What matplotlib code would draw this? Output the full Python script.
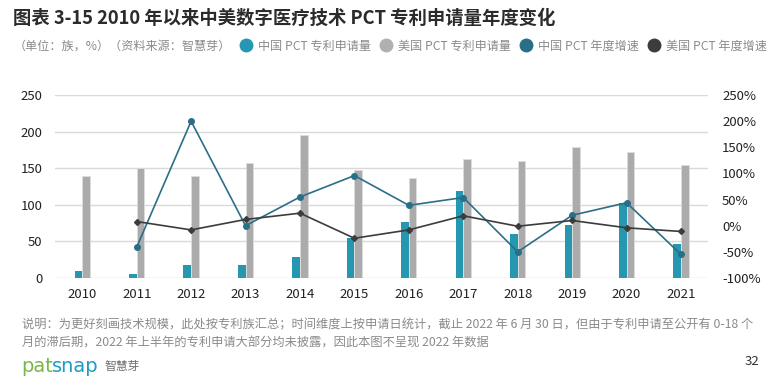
import matplotlib
matplotlib.use('Agg')
import matplotlib.pyplot as plt
import numpy as np
from matplotlib.lines import Line2D

plt.rcParams['font.family'] = ['Noto Sans CJK SC', 'DejaVu Sans']

years = ['2010', '2011', '2012', '2013', '2014', '2015', '2016', '2017', '2018', '2019', '2020', '2021']
cn_count = [10, 6, 18, 18, 28, 55, 76, 119, 60, 72, 103, 47]
us_count = [140, 151, 140, 157, 195, 148, 136, 162, 160, 179, 172, 155]
# growth in %, first year has no value
cn_growth = [np.nan, -41, 200, 0, 55, 96, 39, 54, -50, 20, 44, -55]
us_growth = [np.nan, 8, -8, 12, 24, -24, -8, 19, -1, 10, -4, -11]

left_ticks = [0, 50, 100, 150, 200, 250]
right_ticks = [-100, -50, 0, 50, 100, 150, 200, 250]

C_CN_BAR = '#2597b1'
C_US_BAR = '#ababab'
C_CN_LINE = '#2a6f88'
C_US_LINE = '#3c3c3c'
C_TEXT = '#222222'
C_GREY = '#8a8a8a'

fig = plt.figure(figsize=(7.73, 3.85), dpi=100)
ax = fig.add_axes([0.0712, 0.278, 0.845, 0.475])
ax2 = ax.twinx()

x = np.arange(len(years))
w = 0.14
ax.bar(x - w / 2, cn_count, w, color=C_CN_BAR, zorder=2)
ax.bar(x + w / 2, us_count, w, color=C_US_BAR, edgecolor='#dddddd', linewidth=0.6, zorder=2)

ax.set_xlim(-0.5, 11.5)
ax.set_ylim(0, 250)
ax.set_yticks(left_ticks)
ax.grid(axis='y', color='#d9d9d9', linewidth=1, zorder=0)
ax.set_axisbelow(True)
ax.set_xticks(x)
ax.set_xticklabels(years)
for s in ax.spines.values():
    s.set_visible(False)
ax.tick_params(axis='both', length=0, labelsize=9.5, colors=C_TEXT, pad=7)
ax.tick_params(axis='y', pad=9)

ax2.plot(x, cn_growth, color=C_CN_LINE, marker='o', markersize=4, linewidth=1.2, zorder=3)
ax2.plot(x, us_growth, color=C_US_LINE, marker='D', markersize=3, linewidth=1.2, zorder=3)
ax2.set_ylim(-100, 250)
ax2.set_yticks(right_ticks)
ax2.set_yticklabels([f'{v}%' for v in right_ticks])
for s in ax2.spines.values():
    s.set_visible(False)
ax2.tick_params(axis='y', length=0, labelsize=9.5, colors=C_TEXT, pad=10)

fig.text(0.017, 0.952, '图表 3-15 2010 年以来中美数字医疗技术 PCT 专利申请量年度变化',
         fontsize=13.2, fontweight='bold', color='#2b2b2b', va='center')
fig.text(0.017, 0.88, '（单位：族，%）（资料来源：智慧芽）', fontsize=8.7, color=C_GREY, va='center')

handles = [
    Line2D([], [], linestyle='', marker='o', markersize=9, color=C_CN_BAR),
    Line2D([], [], linestyle='', marker='o', markersize=9, color='#b0b0b0'),
    Line2D([], [], linestyle='', marker='o', markersize=9, color=C_CN_LINE),
    Line2D([], [], linestyle='', marker='o', markersize=9, color=C_US_LINE),
]
labels = ['中国 PCT 专利申请量', '美国 PCT 专利申请量', '中国 PCT 年度增速', '美国 PCT 年度增速']
leg = fig.legend(handles, labels, loc='center left', bbox_to_anchor=(0.31, 0.88), ncol=4,
                 frameon=False, fontsize=8.7, handletextpad=0.5, columnspacing=0.75,
                 handlelength=1.0, borderaxespad=0, borderpad=0)
for t in leg.get_texts():
    t.set_color(C_GREY)

fig.text(0.028, 0.156, '说明：为更好刻画技术规模，此处按专利族汇总；时间维度上按申请日统计，截止 2022 年 6 月 30 日，但由于专利申请至公开有 0-18 个',
         fontsize=8.8, color=C_GREY, va='center')
fig.text(0.028, 0.108, '月的滞后期，2022 年上半年的专利申请大部分均未披露，因此本图不呈现 2022 年数据',
         fontsize=8.8, color=C_GREY, va='center')

fig.text(0.028, 0.048, 'pat', fontsize=14, color='#7ab648', va='center', family='DejaVu Sans')
fig.text(0.0675, 0.048, 'snap', fontsize=14, color='#1c9dc4', va='center', family='DejaVu Sans')
fig.text(0.135, 0.048, '智慧芽', fontsize=8.5, color='#6d6d6d', va='center')
fig.text(0.983, 0.06, '32', fontsize=9.5, color='#333333', va='center', ha='right')

fig.savefig('out.png', dpi=100)
